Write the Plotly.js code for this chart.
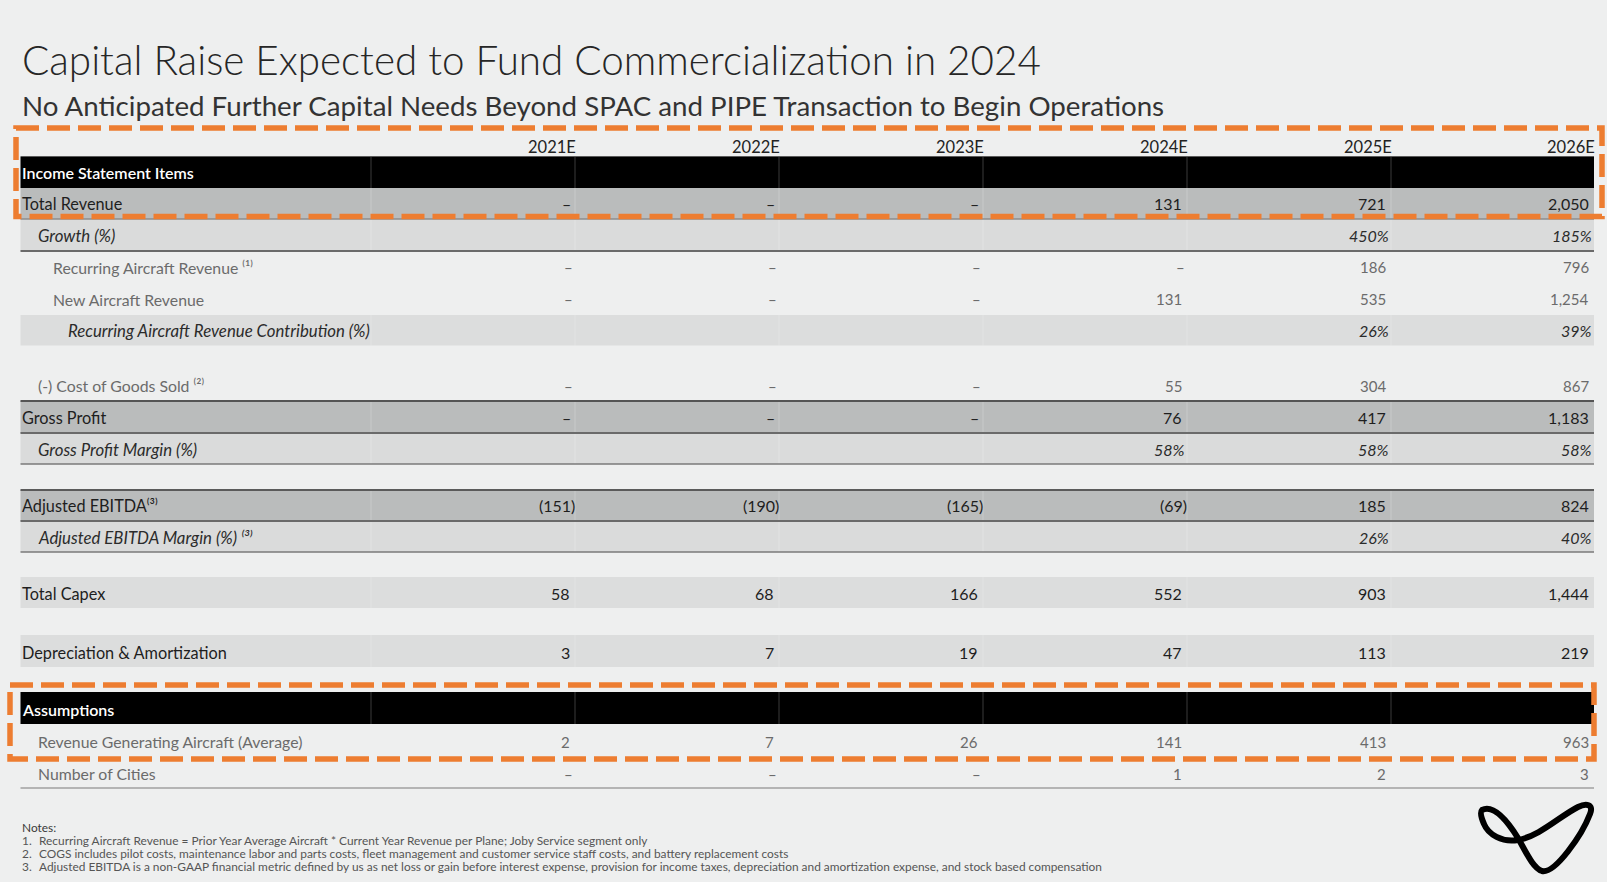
<!DOCTYPE html>
<html>
<head>
<meta charset="utf-8">
<script src="https://cdn.plot.ly/plotly-3.0.1.min.js"></script>
<style>
html,body{margin:0;padding:0;background:#eeefef;}
#chart{width:1607px;height:882px;}
</style>
</head>
<body>
<div id="chart"></div>
<script>
// ---------------- DATA ----------------
const years = ['2021E', '2022E', '2023E', '2024E', '2025E', '2026E'];
const totalRevenue          = [null, null, null, 131, 721, 2050];
const growthPct             = [null, null, null, null, 450, 185];
const recurringRevenue      = [null, null, null, null, 186, 796];
const newAircraftRevenue    = [null, null, null, 131, 535, 1254];
const recurringContribution = [null, null, null, null, 26, 39];
const cogs                  = [null, null, null, 55, 304, 867];
const grossProfit           = [null, null, null, 76, 417, 1183];
const grossMarginPct        = [null, null, null, 58, 58, 58];
const adjEbitda             = [-151, -190, -165, -69, 185, 824];
const adjEbitdaMarginPct    = [null, null, null, null, 26, 40];
const totalCapex            = [58, 68, 166, 552, 903, 1444];
const depreciationAmort     = [3, 7, 19, 47, 113, 219];
const revenueAircraft       = [2, 7, 26, 141, 413, 963];
const numberOfCities        = [null, null, null, 1, 2, 3];

const titleText = 'Capital Raise Expected to Fund Commercialization in 2024';
const subtitleText = 'No Anticipated Further Capital Needs Beyond SPAC and PIPE Transaction to Begin Operations';
const notes = [
  'Recurring Aircraft Revenue = Prior Year Average Aircraft * Current Year Revenue per Plane; Joby Service segment only',
  'COGS includes pilot costs, maintenance labor and parts costs, fleet management and customer service staff costs, and battery replacement costs',
  'Adjusted EBITDA is a non-GAAP financial metric defined by us as net loss or gain before interest expense, provision for income taxes, depreciation and amortization expense, and stock based compensation'
];

// ---------------- LAYOUT / STYLE ----------------
const FONT = 'Lato, "Open Sans", "DejaVu Sans", sans-serif';
const BG = '#eeefef';
const colRight = [575, 779, 983, 1187, 1391, 1594];
const colSep = [371, 575, 779, 983, 1187, 1391];
const tableL = 20.5, tableR = 1594;
const indentX = [21, 37, 52, 67];
const DARK = '#babcbc', LIGHT = '#dadbdb';

const styles = {
  header: {label: {color: '#ffffff', size: 16, weight: 600}},
  main:   {label: {color: '#1e1e1e', size: 16.3}, value: {color: '#1e1e1e', size: 16}},
  italic: {label: {color: '#2b2b2b', size: 16.8, style: 'italic'}, value: {color: '#2b2b2b', size: 16, style: 'italic'}},
  light:  {label: {color: '#6b6b6b', size: 15.8}, value: {color: '#6b6b6b', size: 15}}
};

const rows = [
  {label: 'Income Statement Items', kind: 'header', y: 172.5, band: [157, 188], fill: '#000000', indent: 0},
  {label: 'Total Revenue', data: totalRevenue, kind: 'main', y: 203.5, band: [188, 219], fill: DARK, indent: 0},
  {label: 'Growth (%)', data: growthPct, pct: true, kind: 'italic', y: 235.5, band: [219, 251], fill: LIGHT, indent: 1},
  {label: 'Recurring Aircraft Revenue \u207D\u00B9\u207E', data: recurringRevenue, kind: 'light', y: 267, indent: 2},
  {label: 'New Aircraft Revenue', data: newAircraftRevenue, kind: 'light', y: 299, indent: 2},
  {label: 'Recurring Aircraft Revenue Contribution (%)', data: recurringContribution, pct: true, kind: 'italic', y: 330.5, band: [315, 345.5], fill: '#dcdddd', indent: 3},
  {label: '(-) Cost of Goods Sold \u207D\u00B2\u207E', data: cogs, kind: 'light', y: 385.5, indent: 1},
  {label: 'Gross Profit', data: grossProfit, kind: 'main', y: 417, band: [401, 433], fill: DARK, indent: 0},
  {label: 'Gross Profit Margin (%)', data: grossMarginPct, pct: true, kind: 'italic', y: 449, band: [433, 464], fill: LIGHT, indent: 1},
  {label: 'Adjusted EBITDA\u207D\u00B3\u207E', data: adjEbitda, kind: 'main', y: 505.5, band: [490, 521], fill: DARK, indent: 0},
  {label: 'Adjusted EBITDA Margin (%) \u207D\u00B3\u207E', data: adjEbitdaMarginPct, pct: true, kind: 'italic', y: 537, band: [521, 552], fill: LIGHT, indent: 1},
  {label: 'Total Capex', data: totalCapex, kind: 'main', y: 593.5, band: [577, 608], fill: '#dcdddd', indent: 0},
  {label: 'Depreciation &amp; Amortization', data: depreciationAmort, kind: 'main', y: 652, band: [635, 667], fill: '#dcdddd', indent: 0},
  {label: 'Assumptions', kind: 'header', y: 709.5, band: [692, 724], fill: '#000000', indent: 0},
  {label: 'Revenue Generating Aircraft (Average)', data: revenueAircraft, kind: 'light', y: 741.5, indent: 1},
  {label: 'Number of Cities', data: numberOfCities, kind: 'light', y: 773.5, indent: 1}
];

const hLines = [
  {y: 156.5, color: '#5a5a5a', w: 1},
  {y: 219, color: '#8c8c8c', w: 1.5},
  {y: 251, color: '#6a6a6a', w: 2},
  {y: 401, color: '#555555', w: 2},
  {y: 433, color: '#6a6a6a', w: 2},
  {y: 464, color: '#7a7a7a', w: 1.5},
  {y: 490, color: '#5a5a5a', w: 2},
  {y: 521, color: '#6a6a6a', w: 2},
  {y: 552, color: '#7a7a7a', w: 1.5},
  {y: 788, color: '#a0a0a0', w: 1.5}
];

function fmtNum(v) {
  if (v === null || v === undefined) return '–';
  const s = Math.abs(v).toLocaleString('en-US');
  return v < 0 ? '(' + s + ')' : s;
}
function fmtPct(v) {
  if (v === null || v === undefined) return '';
  return v + '%';
}

const shapes = [];
const annotations = [];

function font(o) {
  const f = {family: FONT, size: o.size, color: o.color};
  if (o.weight) f.weight = o.weight;
  if (o.style) f.style = o.style;
  return f;
}
function ann(x, y, text, f, xanchor) {
  annotations.push({xref: 'x', yref: 'y', x: x, y: y, text: text, showarrow: false,
    xanchor: xanchor || 'left', yanchor: 'middle', font: f, borderpad: 0});
}

// bands
rows.forEach(r => {
  if (r.band) {
    shapes.push({type: 'rect', xref: 'x', yref: 'y', x0: tableL, x1: tableR, y0: r.band[0], y1: r.band[1],
      fillcolor: r.fill, line: {width: 0}, layer: 'below'});
    const sepColor = r.kind === 'header' ? '#3a3a3a' : 'rgba(255,255,255,0.22)';
    colSep.forEach(x => {
      shapes.push({type: 'line', xref: 'x', yref: 'y', x0: x, x1: x, y0: r.band[0], y1: r.band[1],
        line: {color: sepColor, width: 1}, layer: 'below'});
    });
  }
});
hLines.forEach(l => {
  shapes.push({type: 'line', xref: 'x', yref: 'y', x0: tableL, x1: tableR, y0: l.y, y1: l.y,
    line: {color: l.color, width: l.w}, layer: 'below'});
});

// header years
years.forEach((yr, j) => ann(colRight[j] + 2, 147, yr, font({size: 16.5, color: '#222222'}), 'right'));

// rows
rows.forEach(r => {
  const st = styles[r.kind];
  ann(indentX[r.indent], r.y, r.label, font(st.label), 'left');
  if (!r.data) return;
  r.data.forEach((v, j) => {
    let txt, x;
    if (r.pct) {
      txt = fmtPct(v); x = colRight[j] - 1;
      if (!txt) return;
    } else {
      txt = fmtNum(v);
      if (v === null) x = colRight[j] - (r.kind === 'light' ? 1 : 3);
      else x = v < 0 ? colRight[j] + 1 : colRight[j] - 4;
    }
    ann(x, r.y, txt, font(st.value), 'right');
  });
});

// titles
ann(21, 59, titleText, {family: FONT, size: 40.4, color: '#262626', weight: 300}, 'left');
ann(21, 105, subtitleText, {family: FONT, size: 27.7, color: '#333333'}, 'left');

// notes
ann(21, 827, 'Notes:', {family: FONT, size: 11.9, color: '#3a3a3a'}, 'left');
notes.forEach((t, i) => {
  ann(21, 840.3 + i * 13.3, (i + 1) + '.', {family: FONT, size: 11.9, color: '#555555'}, 'left');
  ann(38, 840.3 + i * 13.3, t, {family: FONT, size: 11.9, color: '#555555'}, 'left');
});

// orange dashed highlight boxes
const dash = '23px,8px';
shapes.push({type: 'rect', xref: 'x', yref: 'y', x0: 16, x1: 1602, y0: 128, y1: 216.5,
  line: {color: '#ED7D31', width: 5.5, dash: dash}, fillcolor: 'rgba(0,0,0,0)', layer: 'above'});
shapes.push({type: 'rect', xref: 'x', yref: 'y', x0: 10, x1: 1594, y0: 685, y1: 759,
  line: {color: '#ED7D31', width: 5.5, dash: dash}, fillcolor: 'rgba(0,0,0,0)', layer: 'above'});

// logo
shapes.push({type: 'path', xref: 'x', yref: 'y',
  path: 'M1482,810 C1494,804 1508,822 1518,838 C1526,852 1533,868 1542,871 C1555,874 1582,835 1590,814 C1594,804 1586,803 1578,807 C1560,816 1540,836 1518,840 C1502,843 1488,834 1484,824 C1481,817 1480,812 1482,810 Z',
  line: {color: '#000000', width: 6}, fillcolor: 'rgba(0,0,0,0)'});

const layout = {
  width: 1607, height: 882,
  margin: {l: 0, r: 0, t: 0, b: 0, pad: 0},
  paper_bgcolor: BG, plot_bgcolor: BG,
  showlegend: false,
  xaxis: {range: [0, 1607], visible: false, fixedrange: true},
  yaxis: {range: [882, 0], visible: false, fixedrange: true},
  shapes: shapes,
  annotations: annotations
};

Plotly.newPlot('chart', [{type: 'scatter', x: [], y: [], hoverinfo: 'skip'}], layout, {displayModeBar: false, staticPlot: true});
</script>
</body>
</html>
